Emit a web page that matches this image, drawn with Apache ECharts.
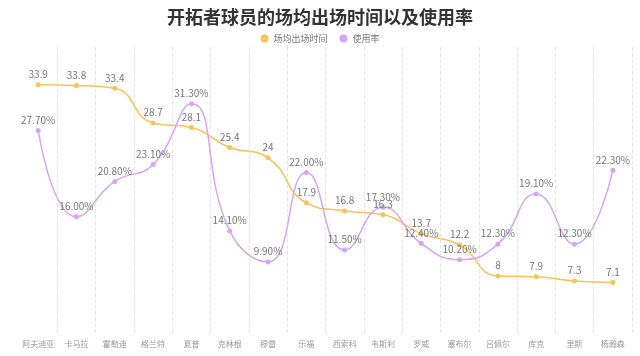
<!DOCTYPE html>
<html><head><meta charset="utf-8">
<script src="https://cdn.jsdelivr.net/npm/echarts@6/dist/echarts.min.js"></script>
<style>html,body{margin:0;padding:0;background:#fff}#c{width:640px;height:356px}</style>
</head><body><div id="c"></div>
<script>
const categories = ['阿夫迪亚','卡马拉','霍勒迪','格兰特','夏普','克林根','穆雷','乐福','西索科','韦斯利','罗威','塞布尔','吕佩尔','库克','里斯','杨瀚森'];
const minutes = [33.9, 33.8, 33.4, 28.7, 28.1, 25.4, 24, 17.9, 16.8, 16.3, 13.7, 12.2, 8, 7.9, 7.3, 7.1];
const usage = [27.7, 16.0, 20.8, 23.1, 31.3, 14.1, 9.9, 22.0, 11.5, 17.3, 12.4, 10.2, 12.3, 19.1, 12.3, 22.3];
const seriesNames = ['场均出场时间', '使用率'];

const chart = echarts.init(document.getElementById('c'), null, {renderer: 'canvas'});
const font = 'Microsoft YaHei, "Noto Sans CJK SC", sans-serif';
chart.setOption({
  animation: false,
  textStyle: {fontFamily: font},
  title: {text: '开拓者球员的场均出场时间以及使用率', left: 'center', top: 3,
    textStyle: {fontSize: 18, fontWeight: 'bold', color: '#333', fontFamily: font}},
  legend: {data: seriesNames, top: 29, left: 'center', icon: 'circle', itemWidth: 8, itemHeight: 8, itemGap: 12,
    textStyle: {fontSize: 9, color: '#777', fontFamily: font}},
  grid: {left: 19, right: 8, top: 47, bottom: 21, containLabel: false},
  xAxis: {type: 'category', data: categories, boundaryGap: true,
    axisLine: {show: false}, axisTick: {show: false},
    axisLabel: {fontSize: 8, color: '#999', margin: 5, interval: 0},
    splitLine: {show: true, interval: function (i) { return i !== 0; }, lineStyle: {type: 'dashed', color: '#e6e6e6'}}},
  yAxis: {type: 'value', min: 0, max: 39, show: false, splitLine: {show: false}},
  series: [
    {name: seriesNames[0], type: 'line', smooth: true, data: minutes, symbol: 'circle', symbolSize: 5,
      itemStyle: {color: '#F5C35C'}, lineStyle: {width: 1.5, color: '#F5C35C'},
      label: {show: true, position: 'top', fontSize: 10, color: '#777', distance: 3}},
    {name: seriesNames[1], type: 'line', smooth: true, data: usage, symbol: 'circle', symbolSize: 5,
      itemStyle: {color: '#D6A6F2'}, lineStyle: {width: 1.5, color: '#D6A6F2'},
      label: {show: true, position: 'top', fontSize: 10, color: '#777', distance: 3,
        formatter: p => p.value.toFixed(2) + '%'}}
  ]
});
</script></body></html>
